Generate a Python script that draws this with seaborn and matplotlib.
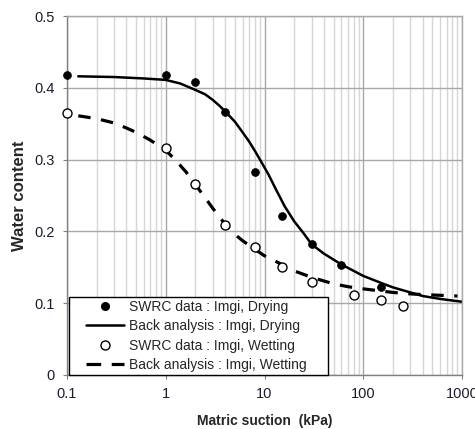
import matplotlib
matplotlib.use("Agg")
import matplotlib.pyplot as plt
import seaborn as sns
from matplotlib.lines import Line2D
from matplotlib.legend_handler import HandlerLine2D
from matplotlib.ticker import LogLocator, NullFormatter, FixedLocator, FixedFormatter

# ---- data ----
dry_x = [0.1, 1, 2, 4, 8, 15, 30, 60, 150]
dry_y = [0.418, 0.418, 0.408, 0.366, 0.283, 0.222, 0.182, 0.153, 0.123]

wet_x = [0.1, 1, 2, 4, 8, 15, 30, 80, 150, 250]
wet_y = [0.365, 0.316, 0.266, 0.209, 0.178, 0.151, 0.129, 0.111, 0.105, 0.096]

dry_fit_x = [0.13, 0.3, 0.6, 1.0, 1.4, 2.0, 2.5, 3.0, 3.5, 4.0, 5.0, 6.0, 7.0, 8.0, 9.0,
             11, 13, 16, 20, 25, 30, 40, 60, 80, 100, 160, 200, 300, 400, 600, 1000]
dry_fit_y = [0.416, 0.415, 0.413, 0.411, 0.406, 0.397, 0.391, 0.383, 0.375, 0.367, 0.353,
             0.338, 0.325, 0.312, 0.300, 0.279, 0.259, 0.235, 0.214, 0.197, 0.182, 0.169,
             0.154, 0.145, 0.138, 0.127, 0.122, 0.115, 0.110, 0.106, 0.102]

wet_fit_x = [0.13, 0.2, 0.3, 0.4, 0.5, 0.7, 1.0, 1.3, 1.6, 2.0, 2.5, 3.0, 3.5, 4.0, 5.0,
             6.0, 8.0, 10, 14, 20, 30, 50, 70, 100, 150, 200, 300, 400, 600, 900]
wet_fit_y = [0.361, 0.357, 0.351, 0.344, 0.338, 0.327, 0.313, 0.297, 0.283, 0.265, 0.247,
             0.232, 0.220, 0.210, 0.196, 0.187, 0.175, 0.166, 0.156, 0.145, 0.136, 0.127,
             0.123, 0.120, 0.117, 0.115, 0.113, 0.112, 0.111, 0.110]

labels = ["SWRC data : Imgi, Drying", "Back analysis : Imgi, Drying",
          "SWRC data : Imgi, Wetting", "Back analysis : Imgi, Wetting"]

x_ticks = [0.1, 1, 10, 100, 1000]
x_tick_labels = ["0.1", "1", "10", "100", "1000"]
y_ticks = [0, 0.1, 0.2, 0.3, 0.4, 0.5]
y_tick_labels = ["0", "0.1", "0.2", "0.3", "0.4", "0.5"]

# ---- style ----
sns.set_style("white")
plt.rcParams["font.family"] = ["Liberation Sans", "DejaVu Sans"]

W, H = 475, 429
fig = plt.figure(figsize=(W / 100, H / 100), dpi=100)
ax = fig.add_axes([67 / W, (H - 375) / H, 395 / W, 359 / H])

wet_dash = (0, (3.9, 3.3))

sns.lineplot(x=dry_fit_x, y=dry_fit_y, ax=ax, color="black", lw=1.8, sort=False,
             estimator=None, zorder=2, legend=False)
sns.lineplot(x=wet_fit_x, y=wet_fit_y, ax=ax, color="black", lw=2.3, sort=False,
             estimator=None, linestyle=wet_dash, dash_capstyle="butt", zorder=2, legend=False)
sns.scatterplot(x=dry_x, y=dry_y, ax=ax, color="black", s=32, edgecolor="black",
                linewidth=0.5, zorder=3, legend=False, clip_on=False)
sns.scatterplot(x=wet_x, y=wet_y, ax=ax, color="white", s=42, edgecolor="black",
                linewidth=1.0, zorder=3, legend=False, clip_on=False)

ax.set_xscale("log")
ax.set_xlim(0.1, 1000)
ax.set_ylim(0, 0.5)
ax.xaxis.set_major_locator(FixedLocator(x_ticks))
ax.xaxis.set_major_formatter(FixedFormatter(x_tick_labels))
ax.xaxis.set_minor_locator(LogLocator(base=10, subs=range(2, 10)))
ax.xaxis.set_minor_formatter(NullFormatter())
ax.yaxis.set_major_locator(FixedLocator(y_ticks))
ax.yaxis.set_major_formatter(FixedFormatter(y_tick_labels))

ax.grid(True, which="major", color="#a8a8a8", lw=1.0)
ax.grid(True, which="minor", axis="x", color="#d6d6d6", lw=1.0)
ax.set_axisbelow(True)

for side in ["top", "right"]:
    ax.spines[side].set_color("#a8a8a8")
    ax.spines[side].set_linewidth(1.0)
for side in ["left", "bottom"]:
    ax.spines[side].set_color("#808080")
    ax.spines[side].set_linewidth(1.0)

ax.tick_params(axis="both", which="major", length=3, width=0.8, color="#808080",
               labelcolor="#1c1c2c", labelsize=10.5, direction="out")
ax.tick_params(axis="y", which="major", pad=6, left=True)
ax.tick_params(axis="x", which="major", pad=6, bottom=True)
ax.tick_params(which="minor", length=0)

ax.set_xlabel("Matric suction  (kPa)", fontsize=10, fontweight="bold", labelpad=9)
ax.set_ylabel("Water content", fontsize=12, fontweight="bold", labelpad=5)

# ---- legend ----
h1 = Line2D([], [], ls="none", marker="o", color="black", markersize=5.5)
h2 = Line2D([], [], color="black", lw=1.8)
h3 = Line2D([], [], ls="none", marker="o", mfc="white", mec="black", markersize=6.5, mew=1.0)
h4 = Line2D([], [], color="black", lw=2.3, ls=(0, (4.6, 3.3)), dash_capstyle="butt")
handles = [h1, h2, h3, h4]
hmap = {h: HandlerLine2D(xpad=1.02) for h in handles}

leg = ax.legend(handles, labels, loc="lower left",
                bbox_to_anchor=(2 / 395, 0.0, 259 / 395, 0.2), mode="expand",
                borderaxespad=0, fontsize=10, frameon=True, fancybox=False, shadow=False,
                borderpad=0.2, labelspacing=0.4, handlelength=3.76, handletextpad=0.36,
                handler_map=hmap)
leg.get_frame().set_edgecolor("black")
leg.get_frame().set_linewidth(1.0)
leg.get_frame().set_facecolor("white")
leg.get_frame().set_alpha(1.0)
leg.set_zorder(5)

fig.savefig("out.png", dpi=100, facecolor="white")
